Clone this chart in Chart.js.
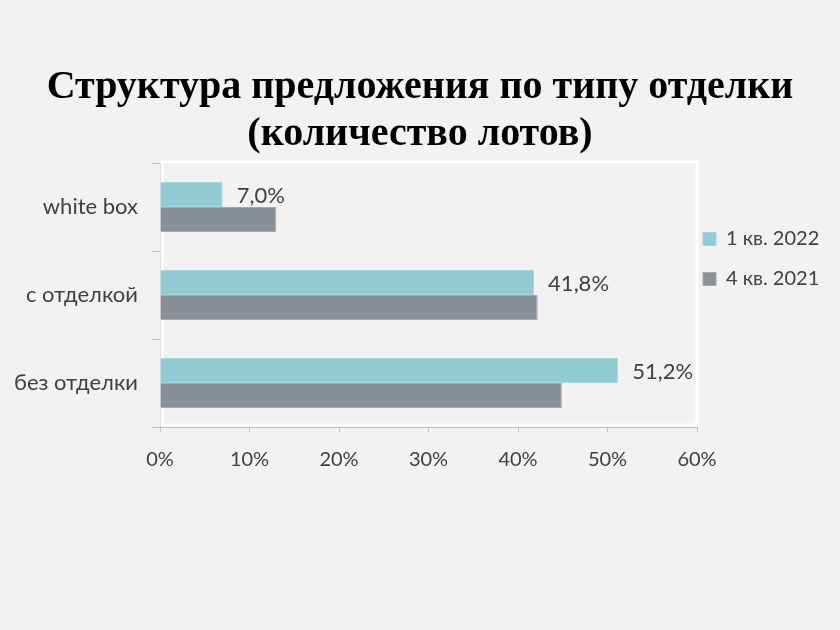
<!DOCTYPE html>
<html>
<head>
<meta charset="utf-8">
<script src="https://cdn.jsdelivr.net/npm/chart.js@4"></script>
<style>
  html, body { margin: 0; padding: 0; background: #f2f2f2; }
  #wrap { width: 840px; height: 630px; }
</style>
</head>
<body>
<div id="wrap"><canvas id="finish-chart"></canvas></div>
<script>
// categories and series (share of lots, %)
const categories = ['white box', 'с отделкой', 'без отделки'];
const seriesNames = ['1 кв. 2022', '4 кв. 2021'];
const q1_2022 = [7.0, 41.8, 51.2];
const q4_2021 = [13.0, 42.2, 44.9];
const xTicks = [0, 10, 20, 30, 40, 50, 60];
const titleLines = ['Структура предложения по типу отделки', '(количество лотов)'];

const TEAL = '#92cbd3';
const GREY = '#8a9097';
const AXIS = '#bfbfbf';
const TEXT = '#404040';

// white frame round the plot area, like the excel original
const plotFrame = {
    id: 'plotFrame',
    beforeDatasetsDraw(chart) {
        const a = chart.chartArea;
        const ctx = chart.ctx;
        ctx.save();
        ctx.strokeStyle = '#ffffff';
        ctx.lineWidth = 3;
        ctx.strokeRect(a.left + 2, a.top - 1, a.right - a.left - 2, a.bottom - a.top - 1);
        ctx.restore();
    }
};

// value labels at the end of the 1 кв. 2022 bars
const valueLabels = {
    id: 'valueLabels',
    afterDatasetsDraw(chart) {
        const ctx = chart.ctx;
        const meta = chart.getDatasetMeta(0);
        ctx.save();
        ctx.font = '22px Lato';
        ctx.fillStyle = TEXT;
        ctx.textAlign = 'left';
        ctx.textBaseline = 'middle';
        meta.data.forEach((bar, i) => {
            const txt = q1_2022[i].toFixed(1).replace('.', ',') + '%';
            ctx.fillText(txt, bar.x + 14, bar.y + 1);
        });
        ctx.restore();
    }
};

// put the legend where excel had it
const legendPlace = {
    id: 'legendPlace',
    afterLayout(chart) {
        const lg = chart.legend;
        const w = lg.width;
        lg.left = 683;
        lg.right = lg.left + w;
        lg.top = 209;
    }
};

const ctx = document.getElementById('finish-chart').getContext('2d');
new Chart(ctx, {
    type: 'bar',
    data: {
        labels: categories,
        datasets: [{
            label: seriesNames[0],
            data: q1_2022,
            backgroundColor: TEAL,
            borderColor: '#a6d5dc',
            borderWidth: 1
        }, {
            label: seriesNames[1],
            data: q4_2021,
            backgroundColor: GREY,
            borderColor: '#a3a8ad',
            borderWidth: 1
        }]
    },
    options: {
        indexAxis: 'y',
        responsive: true,
        maintainAspectRatio: false,
        animation: false,
        categoryPercentage: 0.57,
        barPercentage: 1,
        layout: { padding: { left: 0, right: 0, top: 0, bottom: 155 } },
        scales: {
            x: {
                min: 0,
                max: 60,
                afterBuildTicks: (scale) => { scale.ticks = xTicks.map(v => ({ value: v })); },
                afterFit: (scale) => { scale.height = 48; },
                grid: { drawOnChartArea: false, color: AXIS, tickLength: 5 },
                border: { color: AXIS },
                ticks: {
                    color: TEXT,
                    font: { family: 'Lato', size: 20 },
                    padding: 16,
                    callback: (v) => v + '%'
                }
            },
            y: {
                afterFit: (scale) => { scale.width = 160; },
                grid: { drawOnChartArea: false, color: AXIS, tickLength: 8, offset: true },
                border: { color: AXIS },
                ticks: {
                    color: TEXT,
                    font: { family: 'Lato', size: 22 },
                    padding: 14
                }
            }
        },
        plugins: {
            title: {
                display: true,
                text: titleLines,
                color: '#000000',
                font: { family: 'Liberation Serif', size: 40, weight: 'bold', lineHeight: 1.175 },
                padding: { top: 64, bottom: 5 }
            },
            legend: {
                position: 'right',
                align: 'start',
                fullSize: false,
                maxWidth: 143,
                labels: {
                    color: TEXT,
                    font: { family: 'Lato', size: 20 },
                    boxWidth: 13,
                    boxHeight: 13,
                    padding: 20
                }
            },
            tooltip: { enabled: false }
        }
    },
    plugins: [plotFrame, valueLabels, legendPlace]
});
</script>
</body>
</html>
